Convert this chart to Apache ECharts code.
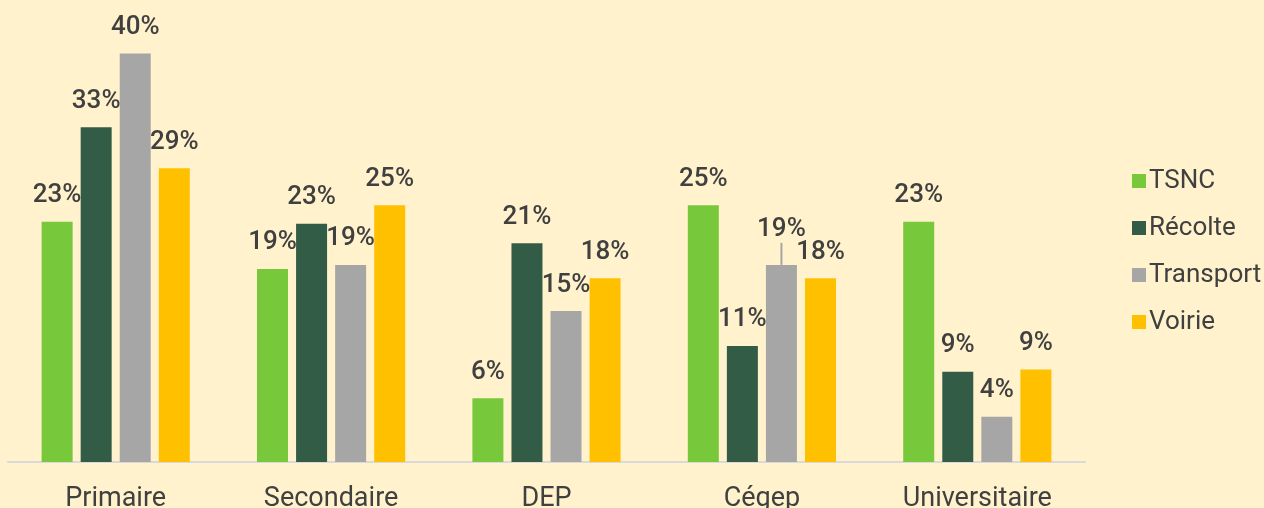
<!DOCTYPE html>
<html>
<head>
<meta charset="utf-8">
<script src="https://cdn.jsdelivr.net/npm/echarts@6/dist/echarts.min.js"></script>
<style>
  html, body { margin: 0; padding: 0; background: #FFF2CC; }
  #chart { width: 1264px; height: 508px; }
</style>
</head>
<body>
<div id="chart"></div>
<script>
// niveaux de scolarité
const categories = ['Primaire', 'Secondaire', 'DEP', 'Cégep', 'Universitaire'];
const seriesNames = ['TSNC', 'Récolte', 'Transport', 'Voirie'];

// valeurs en %
const tsnc = [23.4, 18.8, 6.2, 25.0, 23.4];
const recolte = [32.6, 23.2, 21.3, 11.3, 8.8];
const transport = [39.8, 19.2, 14.7, 19.2, 4.4];
const voirie = [28.6, 25.0, 17.9, 17.9, 9.0];

const colors = ['#77C83A', '#335C46', '#A6A6A6', '#FFC000'];
const txt = '#404040';

window.onload = function() {
    const chart = echarts.init(document.getElementById('chart'));
    const values = [tsnc, recolte, transport, voirie];

    const series = seriesNames.map((name, i) => ({
        name: name,
        type: 'bar',
        // Cégep / Transport : étiquette décalée avec un trait
        data: values[i].map((v, j) => (i === 2 && j === 3)
            ? { value: v, labelLine: { show: true, lineStyle: { color: '#A6A6A6', width: 2 } } }
            : v),
        barWidth: 31,
        barGap: '26%',
        itemStyle: { color: colors[i] },
        label: {
            show: true,
            position: 'top',
            distance: 13,
            color: txt,
            fontSize: 26,
            fontWeight: 500,
            fontFamily: 'Roboto',
            formatter: p => Math.round(p.value) + '%'
        },
        labelLine: { show: false },
        labelLayout: i === 2 ? function(params) {
            return params.dataIndex === 3 ? { dy: -9 } : {};
        } : undefined
    }));

    const option = {
        backgroundColor: '#FFF2CC',
        animation: false,
        grid: { left: 8, right: 179, top: 0, bottom: 46, outerBoundsMode: 'none' },
        legend: {
            orient: 'vertical',
            left: 1127,
            top: 163,
            icon: 'rect',
            itemWidth: 14,
            itemHeight: 14,
            itemGap: 21,
            textStyle: { color: txt, fontSize: 26, fontFamily: 'Roboto', padding: [0, 0, 0, -2] },
            data: seriesNames
        },
        xAxis: {
            type: 'category',
            data: categories,
            axisLine: { lineStyle: { color: '#D9D9D9', width: 2 } },
            axisTick: { show: false },
            axisLabel: { color: txt, fontSize: 27, fontFamily: 'Roboto', margin: 24 }
        },
        yAxis: {
            type: 'value',
            min: 0,
            max: 45,
            show: false,
            splitLine: { show: false }
        },
        series: series
    };
    chart.setOption(option);
};
</script>
</body>
</html>
